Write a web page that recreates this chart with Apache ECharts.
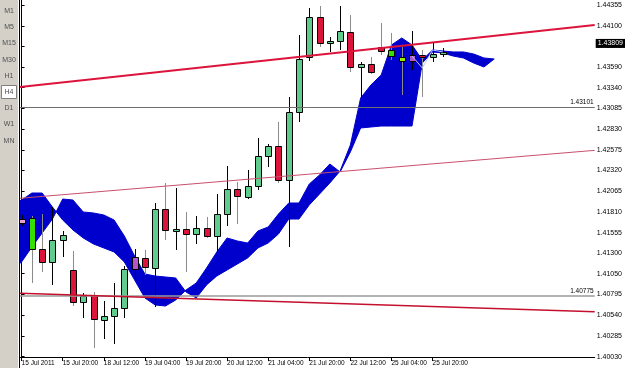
<!DOCTYPE html>
<html><head><meta charset="utf-8">
<script src="https://cdn.jsdelivr.net/npm/echarts@6/dist/echarts.min.js"></script>
<style>html,body{margin:0;padding:0;background:#fff}#c{width:625px;height:368px}</style>
</head><body><div id="c"></div>
<script>
// ---- data ----
const timeframes = ['M1','M5','M15','M30','H1','H4','D1','W1','MN'];
const activeTimeframe = 'H4';
const xTickBars = [0,4,8,12,16,20,24,28,32,36,40];
const xTickLabels = ['15 Jul 2011','15 Jul 20:00','18 Jul 12:00','19 Jul 04:00','19 Jul 20:00','20 Jul 12:00','21 Jul 04:00','21 Jul 20:00','22 Jul 12:00','25 Jul 04:00','25 Jul 20:00'];
const yTickValues = [1.40030,1.40285,1.40540,1.40795,1.41050,1.41300,1.41555,1.41810,1.42065,1.42320,1.42575,1.42830,1.43085,1.43340,1.43590,1.43845,1.44100,1.44355];

const openP  = [1.41674,1.41736,1.41354,1.41195,1.41465,1.41096,1.40703,1.40789,1.40481,1.40530,1.40629,1.41108,1.41244,1.41121,1.41846,1.41576,1.41600,1.41539,1.41613,1.41514,1.41785,1.42092,1.41994,1.42129,1.42498,1.42621,1.42203,1.43040,1.43716,1.44208,1.43888,1.43913,1.44024,1.43593,1.43630,1.43839,1.43802,1.43716,1.43667,1.43741,1.43716,1.43753];
const highP  = [1.41773,1.41760,1.41785,1.41871,1.41576,1.41330,1.40813,1.40826,1.40715,1.40936,1.41145,1.41354,1.41342,1.41920,1.42166,1.42105,1.41810,1.41760,1.41748,1.42031,1.42375,1.42179,1.42326,1.42720,1.42646,1.42917,1.43224,1.43987,1.44319,1.44343,1.43962,1.44343,1.44233,1.43655,1.43716,1.44134,1.44011,1.43839,1.44036,1.43802,1.43901,1.43827];
const lowP   = [1.41637,1.40936,1.41072,1.40912,1.41256,1.40653,1.40506,1.40137,1.40247,1.40186,1.40506,1.40973,1.41035,1.40641,1.41465,1.41342,1.41072,1.41416,1.41490,1.41318,1.41637,1.41662,1.41969,1.42080,1.42363,1.42166,1.41379,1.42917,1.43667,1.43839,1.43778,1.43802,1.43532,1.43212,1.43507,1.43741,1.43679,1.43249,1.43556,1.43224,1.43655,1.43716];
const closeP = [1.41723,1.41354,1.41195,1.41465,1.41527,1.40703,1.40776,1.40493,1.40530,1.40629,1.41108,1.41256,1.41133,1.41846,1.41588,1.41600,1.41539,1.41613,1.41514,1.41785,1.42092,1.42006,1.42129,1.42498,1.42621,1.42203,1.43040,1.43691,1.44208,1.43888,1.43913,1.44036,1.43593,1.43630,1.43532,1.43790,1.43728,1.43667,1.43741,1.43716,1.43753,1.43778];
// indicator highlight per bar ('' = none)
const signal = ['pink','lime','','','','','','','','','','purple','','','','','','','','','','','','','','','','','','','','','','','','','lime','yellowgreen','purple','','',''];

// Ichimoku cloud, first value belongs to bar -1
const cloudFirstBar = -1;
const senkouA = [1.41896,1.41957,1.42043,1.42043,1.41871,1.41711,1.41588,1.41490,1.41416,1.41367,1.41318,1.41195,1.40973,1.40752,1.40666,1.40653,1.40727,1.40850,1.40936,1.41121,1.41318,1.41490,1.41453,1.41428,1.41576,1.41625,1.41785,1.41920,1.41920,1.42154,1.42265,1.42400,1.42302,1.42548,1.42843,1.42855,1.42867,1.42867,1.42867,1.42867,1.43642,1.43778,1.43765,1.43728,1.43704,1.43642,1.43593,1.43691];
const senkouB = [1.41096,1.41195,1.41379,1.41551,1.41723,1.41969,1.41957,1.41810,1.41797,1.41773,1.41711,1.41514,1.41268,1.41047,1.41022,1.41010,1.40998,1.40826,1.40752,1.40912,1.41022,1.41096,1.41170,1.41244,1.41367,1.41428,1.41539,1.41723,1.41723,1.41896,1.42031,1.42166,1.42314,1.42634,1.43212,1.43372,1.43495,1.43864,1.43950,1.43864,1.43679,1.43802,1.43790,1.43778,1.43778,1.43753,1.43704,1.43691];
const tenkanBars = [38,39,40,41];
const tenkan = [1.43728,1.43581,1.43802,1.43778];

const trendUpper = [[0,1.43349],[41,1.43908]];
const trendMiddle = [[0,1.41980],[41,1.42412]];
const trendLower = [[0,1.40809],[41,1.40643]];
const hLevels = [1.43101,1.40775];
const lastPrice = 1.43809;

// ---- chart ----
const X_MIN = -0.156, X_MAX = 55.78, Y_MIN = 1.40026, Y_MAX = 1.44417;
const FONT = 'Liberation Sans';
const sigColors = {pink:'#E6A2C8', lime:'#33E000', yellowgreen:'#99EE00', purple:'#B455C8'};

function extend(a){
  const [[b1,p1],[b2,p2]] = a; const s = (p2-p1)/(b2-b1);
  return [[X_MIN, p1 + s*(X_MIN-b1)], [X_MAX, p1 + s*(X_MAX-b1)]];
}

const candleData = openP.map((o,i)=>[i,o,closeP[i],lowP[i],highP[i]]);

function candleRender(params, api){
  const i = params.dataIndex;
  const xv = api.value(0), o = api.value(1), c = api.value(2), l = api.value(3), h = api.value(4);
  const pO = api.coord([xv,o]), pC = api.coord([xv,c]), pH = api.coord([xv,h]), pL = api.coord([xv,l]);
  const cx = Math.round(pO[0]) + 0.5;
  const bull = c >= o;
  let fill = bull ? '#5FCC8E' : '#DC143C';
  if (signal[i]) fill = sigColors[signal[i]];
  const wick = bull ? '#000000' : '#8C8C8C';
  const top = Math.round(Math.min(pO[1], pC[1])) + 0.5;
  let bot = Math.round(Math.max(pO[1], pC[1])) + 0.5;
  if (bot - top < 1) bot = top + 1;
  return {type:'group', children:[
    {type:'line', shape:{x1:cx, y1:Math.round(pH[1]), x2:cx, y2:Math.round(pL[1])}, style:{stroke:wick, lineWidth:1}},
    {type:'rect', shape:{x:cx-3, y:top, width:6, height:bot-top}, style:{fill:fill, stroke:'#000', lineWidth:1}}
  ]};
}

function cloudRender(params, api){
  const pts = [];
  for (let k=0;k<senkouA.length;k++) pts.push(api.coord([cloudFirstBar+k, senkouA[k]]));
  for (let k=senkouB.length-1;k>=0;k--) pts.push(api.coord([cloudFirstBar+k, senkouB[k]]));
  return {type:'polygon', shape:{points:pts}, style:{fill:'#0000CC', stroke:'#0000CC', lineWidth:1}};
}

const graphics = [
  {type:'rect', shape:{x:0,y:0,width:18,height:368}, style:{fill:'#D4D0C8'}, z:10},
  {type:'line', shape:{x1:18.5,y1:0,x2:18.5,y2:368}, style:{stroke:'#FFFFFF'}, z:10},
  {type:'line', shape:{x1:19.5,y1:0,x2:19.5,y2:368}, style:{stroke:'#000000'}, z:10}
];
timeframes.forEach((t,k)=>{
  const y = 11 + k*16.2;
  if (t === activeTimeframe) {
    graphics.push({type:'rect', shape:{x:1.5,y:y-6.5,width:15,height:13}, style:{fill:'#FFFFFF', stroke:'#808080'}, z:11});
  }
  graphics.push({type:'text', x:9, y:y, style:{text:t, fill:'#505050', font:'7px '+FONT, textAlign:'center', textVerticalAlign:'middle'}, z:12});
});

const lblFmt = (p)=>Number(p.value).toFixed(5);

const chart = echarts.init(document.getElementById('c'), null, {renderer:'canvas'});
chart.setOption({
  animation:false,
  backgroundColor:'#FFFFFF',
  grid:{left:20, right:30, top:0, bottom:11, containLabel:false},
  xAxis:{type:'value', min:X_MIN, max:X_MAX, position:'bottom',
    axisLine:{show:true, onZero:false, lineStyle:{color:'#000', width:1}},
    axisTick:{show:true, customValues:xTickBars, length:4, lineStyle:{color:'#000'}},
    axisLabel:{show:true, customValues:xTickBars, align:'left', margin:3,
      formatter:(v)=>{const k = xTickBars.indexOf(Math.round(v)); return k>=0 ? xTickLabels[k] : '';},
      color:'#000', fontFamily:FONT, fontSize:6.5},
    splitLine:{show:false}},
  yAxis:{type:'value', min:Y_MIN, max:Y_MAX, position:'right',
    axisLine:{show:true, lineStyle:{color:'#000', width:1}},
    axisTick:{show:true, customValues:yTickValues, length:3, lineStyle:{color:'#000'}},
    axisLabel:{show:true, customValues:yTickValues, margin:2, formatter:(v)=>v.toFixed(5),
      color:'#000', fontFamily:FONT, fontSize:7},
    splitLine:{show:false}},
  graphic: graphics,
  series:[
    {type:'custom', name:'Kumo', renderItem:cloudRender, data:[[0, senkouA[1]]], clip:true, z:1, silent:true},
    {type:'custom', name:'Candles', renderItem:candleRender, data:candleData, clip:true, z:3,
      encode:{x:0, y:[1,2,3,4]}, silent:true},
    {type:'line', name:'Tenkan', data:tenkanBars.map((b,k)=>[b,tenkan[k]]), symbol:'none', z:4,
      lineStyle:{color:'#B8C8FF', width:1}, silent:true,
      markLine:{silent:true, symbol:['none','none'], animation:false, precision:5,
        data:[
          {yAxis:hLevels[0], lineStyle:{color:'#6E6E6E', width:1, type:'solid'},
            label:{show:true, position:'insideEndTop', distance:[1,1], formatter:lblFmt, color:'#000', fontFamily:FONT, fontSize:6.5}},
          {yAxis:hLevels[1], lineStyle:{color:'#9A9A9A', width:1.5, type:'solid'},
            label:{show:true, position:'insideEndTop', distance:[1,1], formatter:lblFmt, color:'#000', fontFamily:FONT, fontSize:6.5}}
        ]}},
    {type:'line', name:'Bid', data:[[41, lastPrice]], symbol:'none', showSymbol:false, clip:false, z:20, silent:true,
      lineStyle:{color:'rgba(0,0,0,0)'},
      markLine:{silent:true, symbol:['none','none'], animation:false, precision:5,
        lineStyle:{color:'rgba(0,0,0,0)', width:1, type:'solid'},
        label:{show:true, position:'end', distance:1, formatter:lblFmt, color:'#FFFFFF', backgroundColor:'#000000', padding:[1,2,1,2], fontFamily:FONT, fontSize:7, offset:[0,-6]},
        data:[{yAxis:lastPrice}]}},
    {type:'line', name:'TrendUpper', data:extend(trendUpper), symbol:'none', z:5, silent:true,
      lineStyle:{color:'#DC143C', width:2}},
    {type:'line', name:'TrendMiddle', data:extend(trendMiddle), symbol:'none', z:5, silent:true,
      lineStyle:{color:'#C8506E', width:1}},
    {type:'line', name:'TrendLower', data:extend(trendLower), symbol:'none', z:5, silent:true,
      lineStyle:{color:'#C4102E', width:1.5}}
  ]
});
</script>
</body></html>
